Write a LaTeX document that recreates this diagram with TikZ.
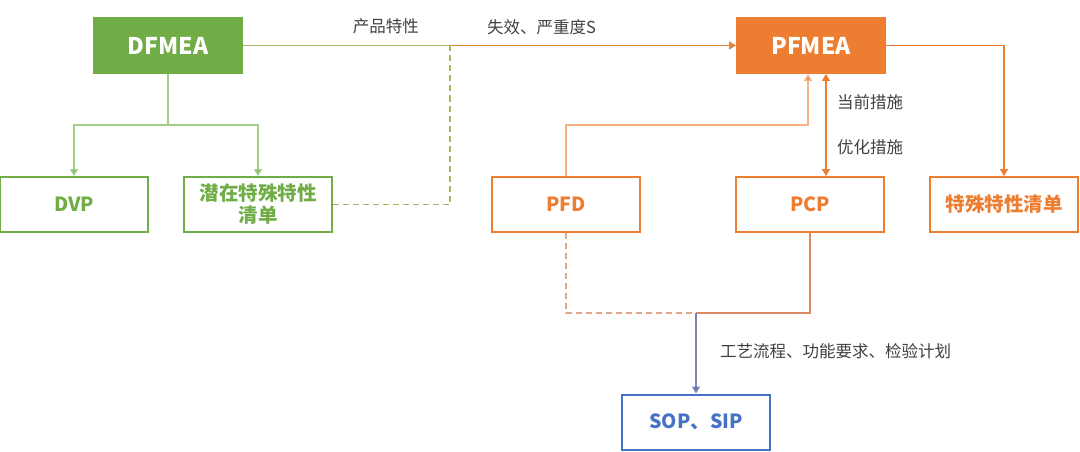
\documentclass[tikz,border=0pt]{standalone}
\usepackage{fontspec}
\setmainfont{Noto Sans CJK SC}
\usepackage{tikz}
\usetikzlibrary{arrows.meta}

\definecolor{dgreen}{HTML}{70AD47}
\definecolor{lgreen}{HTML}{A5CD8A}
\definecolor{dorange}{HTML}{ED7D31}
\definecolor{lorange}{HTML}{F4B183}
\definecolor{dblue}{HTML}{4472C4}
\definecolor{olive}{HTML}{A9B45C}
\definecolor{mauve}{HTML}{C99A96}
\definecolor{lbl}{HTML}{404040}

\begin{document}
\begin{tikzpicture}[>={Triangle[width=8pt,length=7pt]}, box/.style={rectangle, minimum width=148pt, minimum height=55pt, inner sep=0pt, line width=2pt, font=\fontsize{19.5}{22}\selectfont\bfseries, align=center}, topbox/.style={box, font=\fontsize{23}{26}\selectfont\bfseries, text=white}, lbl/.style={text=lbl, font=\fontsize{16.5}{19}\selectfont}, line width=1.5pt, dsh/.style={dash pattern=on 6pt off 4pt}]
\useasboundingbox (0pt,0pt) rectangle (1080pt,-452pt);
\draw (168pt, -45.5pt)node[topbox, fill=dgreen, draw=dgreen](0){DFMEA};
\draw (74pt, -204.5pt)node[box, draw=dgreen, text=dgreen](1){DVP};
\draw (258pt, -204.5pt)node[box, draw=dgreen, text=dgreen](2){潜在特殊特性\\清单};
\draw (811pt, -45.5pt)node[topbox, fill=dorange, draw=dorange](3){PFMEA};
\draw (566pt, -204.5pt)node[box, draw=dorange, text=dorange](4){PFD};
\draw (810pt, -204.5pt)node[box, draw=dorange, text=dorange](5){PCP};
\draw (1004pt, -204.5pt)node[box, draw=dorange, text=dorange](6){特殊特性清单};
\draw (696pt, -422pt)node[box, draw=dblue, text=dblue](7){SOP、SIP};
\coordinate (8) at (168pt, -125pt);
\coordinate (9) at (450pt, -45.5pt);
\coordinate (10) at (808pt, -125pt);
\coordinate (11) at (696pt, -313pt);
% DFMEA
\draw[lgreen, ->, >={Triangle[width=8pt,length=7pt,fill=dgreen]}] (0) -- (8) -| (1);
\draw[lgreen, ->, >={Triangle[width=8pt,length=7pt,fill=dgreen]}] (8) -| (2);
\draw[olive] (0) -- node[lbl, above=7pt, pos=0.69]{产品特性}(9);
\draw[dorange!80!olive, ->, >={Triangle[width=8pt,length=7pt,fill=dorange]}] (9) -- node[lbl, above=7pt, pos=0.32]{失效、严重度S}(3);
\draw[olive, dsh] (2) -| (9);
% PFMEA
\draw[lorange, ->, >={Triangle[width=8pt,length=7pt,fill=dorange]}] (4) |- (10) -- (10 |- 3.south);
\draw[dorange, <->] ([xshift=15pt]3.south) -- node[lbl, right=7pt, pos=0.28]{当前措施} node[lbl, right=7pt, pos=0.72]{优化措施}([xshift=15pt]3.south |- 5.north);
\draw[dorange, ->] (3) -| (6);
% SOP
\draw[lorange!60!mauve, dsh] (4) |- (11);
\draw[dorange!50!mauve] (5) |- (11);
\draw[mauve!40!dblue, ->, >={Triangle[width=8pt,length=7pt,fill=dblue]}] (11) -- node[lbl, right=20pt, pos=0.48]{工艺流程、功能要求、检验计划}(7);
\end{tikzpicture}
\end{document}
